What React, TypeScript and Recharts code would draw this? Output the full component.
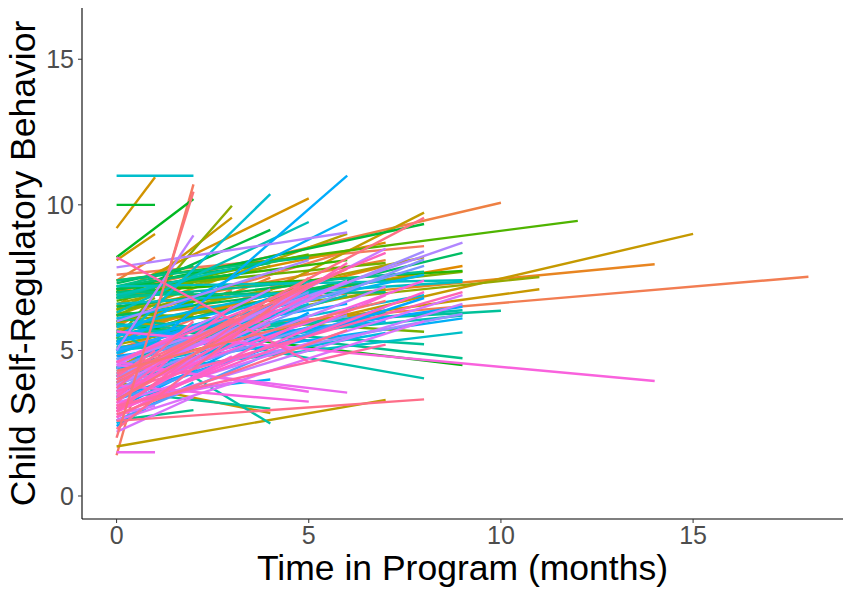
import React from 'react';
import { LineChart, Line, XAxis, YAxis, Label } from 'recharts';

// each row: [participant id, score at month 0, score at last visit]
type Row = [number, number, number];

const followUp1: Row[] = [
  [19, 9.2, 10.95], [52, 10.0, 10.0], [20, 8.1, 9.0], [8, 7.4, 8.2], [128, 1.5, 1.5],
  [70, 6.8, 7.2], [96, 5.2, 5.9], [145, 4.1, 5.0], [60, 7.0, 7.1], [110, 3.6, 4.4],
  [40, 6.2, 6.8], [85, 4.9, 5.3], [135, 2.9, 3.5], [25, 5.6, 6.0], [100, 2.4, 3.2],
  [65, 7.2, 7.5], [150, 3.3, 4.0], [12, 6.0, 6.3], [78, 4.4, 4.9], [120, 2.8, 3.1],
];

const followUp2: Row[] = [
  [81, 11.0, 11.0], [51, 8.2, 10.2], [3, 1.4, 10.7], [155, 2.0, 10.45], [116, 5.0, 8.95],
  [66, 2.6, 2.95], [58, 7.3, 7.9], [140, 3.2, 5.4], [90, 6.1, 6.6], [30, 5.3, 6.2],
  [105, 3.0, 4.6], [132, 4.6, 5.8], [45, 6.7, 7.3], [10, 5.8, 7.4], [88, 2.5, 3.9],
  [148, 3.7, 6.0], [62, 7.0, 7.0], [122, 2.2, 3.4], [35, 6.4, 7.6], [98, 4.3, 5.1],
  [15, 5.9, 7.0],
];

const followUp3: Row[] = [
  [37, 5.4, 9.97], [21, 6.5, 9.56], [142, 3.4, 6.5], [75, 6.9, 7.8], [112, 4.2, 5.6],
  [55, 7.1, 7.6], [130, 2.7, 4.8], [92, 5.5, 6.4], [6, 4.8, 7.1], [80, 3.9, 5.2],
  [47, 6.0, 7.0], [126, 3.1, 3.9], [102, 5.0, 6.1], [134, 4.0, 6.0], [86, 3.5, 5.3],
];

const followUp4: Row[] = [
  [82, 5.2, 10.37], [54, 6.8, 9.14], [72, 5.7, 2.49], [95, 3.4, 4.0], [23, 3.9, 2.85],
  [68, 3.6, 3.0], [146, 2.9, 6.8], [118, 4.5, 7.1], [33, 6.6, 7.9], [86, 5.8, 6.9],
  [138, 3.1, 5.9], [9, 5.3, 7.5], [61, 7.2, 8.0], [104, 2.6, 4.9], [125, 4.0, 6.2],
  [154, 3.3, 6.4], [92, 4.9, 6.8],
];

const followUp5: Row[] = [
  [18, 7.0, 10.22], [76, 6.3, 9.41], [129, 4.6, 3.58], [131, 3.8, 3.24], [149, 2.3, 7.5],
  [99, 3.0, 6.3], [44, 6.9, 8.3], [2, 5.0, 7.7], [84, 4.7, 6.6], [113, 6.0, 8.1],
  [64, 7.4, 8.2], [137, 3.5, 6.9], [27, 5.7, 7.2], [93, 4.1, 5.8], [56, 6.5, 7.3],
  [144, 8.2, 4.6], [139, 2.7, 6.1], [106, 4.4, 7.0], [152, 3.9, 7.3],
];

const followUp6: Row[] = [
  [97, 4.1, 11.0], [94, 5.5, 9.47], [28, 6.2, 9.0], [143, 3.0, 8.0], [115, 7.85, 9.05],
  [127, 4.5, 3.55], [74, 4.6, 6.9], [5, 6.0, 8.4], [108, 3.7, 6.2], [48, 7.1, 8.1],
  [89, 5.0, 7.3], [151, 2.8, 5.7], [124, 3.4, 7.4], [98, 5.3, 6.6], [150, 4.2, 7.8],
];

const followUp7: Row[] = [
  [26, 1.7, 3.3], [16, 6.8, 8.7], [141, 4.6, 8.35], [71, 5.0, 6.28], [83, 4.4, 6.15],
  [42, 7.1, 8.0], [57, 6.2, 7.4], [103, 3.3, 6.5], [136, 2.9, 6.9], [11, 5.6, 7.9],
  [87, 4.0, 5.6], [117, 3.6, 7.2], [63, 6.9, 7.0], [32, 5.2, 7.1], [147, 3.1, 5.2],
  [119, 3.8, 8.5], [156, 4.3, 6.7], [93, 5.1, 6.0], [9, 6.4, 8.1],
];

const followUp8: Row[] = [
  [24, 4.4, 9.73], [153, 4.0, 9.55], [53, 7.1, 9.34], [4, 7.6, 8.58], [109, 3.8, 8.13],
  [152, 2.58, 3.32], [69, 5.9, 5.21], [73, 5.9, 4.04], [41, 6.3, 5.64], [101, 3.4, 6.8],
  [123, 2.6, 6.0], [91, 5.3, 7.6], [29, 6.0, 8.2], [139, 3.0, 7.0], [67, 6.8, 7.7],
  [107, 4.7, 7.9], [133, 3.6, 7.4], [84, 5.0, 6.9], [112, 4.1, 8.4],
];

const followUp9: Row[] = [
  [114, 4.6, 8.7], [59, 5.5, 8.35], [49, 7.0, 7.73], [77, 7.2, 7.41], [79, 6.6, 7.36],
  [99, 4.8, 6.5], [73, 5.4, 6.38], [111, 3.9, 6.25], [80, 4.2, 5.62], [66, 6.1, 4.73],
  [50, 5.9, 4.5], [144, 3.6, 7.0], [39, 6.4, 7.7], [121, 3.2, 6.9], [13, 5.8, 7.9],
  [95, 4.4, 6.1], [118, 3.0, 6.6], [76, 5.0, 6.2],
];

const followUpLong: [number, number, number, number][] = [
  // [id, start, months, end]
  [7, 7.0, 10, 10.07], [69, 5.6, 10, 6.36], [35, 6.0, 11, 7.52], [22, 5.1, 11, 7.1],
  [46, 7.4, 12, 9.45], [10, 6.2, 14, 7.96], [133, 5.65, 14, 3.95], [23, 4.4, 15, 9.0],
  [5, 5.5, 18, 7.53],
];

const xTicks = [0, 5, 10, 15];
const yTicks = [0, 5, 10, 15];
const PALETTE_SIZE = 156;

// ggplot-style hue palette: hcl(h, c = 100, l = 65)
const hcl = (h: number, c = 100, l = 65) => {
  const rad = (h * Math.PI) / 180;
  const u = c * Math.cos(rad);
  const v = c * Math.sin(rad);
  const Xn = 95.047, Yn = 100, Zn = 108.883;
  const den = Xn + 15 * Yn + 3 * Zn;
  const un = (4 * Xn) / den;
  const vn = (9 * Yn) / den;
  const Y = Yn * Math.pow((l + 16) / 116, 3);
  const up = u / (13 * l) + un;
  const vp = v / (13 * l) + vn;
  const X = (Y * 9 * up) / (4 * vp);
  const Z = (Y * (12 - 3 * up - 20 * vp)) / (4 * vp);
  const x = X / 100, y = Y / 100, z = Z / 100;
  const lin = [
    3.2404542 * x - 1.5371385 * y - 0.4985314 * z,
    -0.969266 * x + 1.8760108 * y + 0.041556 * z,
    0.0556434 * x - 0.2040259 * y + 1.0572252 * z,
  ];
  const hex = lin
    .map((ch) => {
      const g = ch <= 0.0031308 ? 12.92 * ch : 1.055 * Math.pow(ch, 1 / 2.4) - 0.055;
      const n = Math.round(Math.min(1, Math.max(0, g)) * 255);
      return n.toString(16).padStart(2, '0');
    })
    .join('');
  return `#${hex}`;
};

const colorFor = (id: number) => hcl(15 + (360 * (id - 1)) / PALETTE_SIZE);

const groups: [number, Row[]][] = [
  [1, followUp1], [2, followUp2], [3, followUp3], [4, followUp4], [5, followUp5],
  [6, followUp6], [7, followUp7], [8, followUp8], [9, followUp9],
];

const segments = [
  ...groups.flatMap(([months, rows]) =>
    rows.map(([id, start, end]) => ({ id, data: [{ t: 0, v: start }, { t: months, v: end }] }))
  ),
  ...followUpLong.map(([id, start, months, end]) => ({
    id,
    data: [{ t: 0, v: start }, { t: months, v: end }],
  })),
].sort((a, b) => a.id - b.id);

const FONT = '"Liberation Sans", Arial, sans-serif';

export default function App() {
  return (
    <div style={{ width: 843, height: 588, background: '#fff' }}>
      <LineChart width={843} height={588} margin={{ top: 0, right: 8, bottom: 0, left: 0 }}>
        <XAxis
          dataKey="t"
          type="number"
          domain={[-0.9, 18.9]}
          ticks={xTicks}
          allowDataOverflow
          height={77}
          tickSize={4}
          tickMargin={3}
          tick={{ fill: '#4D4D4D', fontSize: 25, fontFamily: FONT }}
          tickLine={{ stroke: '#333333' }}
          axisLine={{ stroke: '#000000', strokeWidth: 1.1 }}
        >
          <Label
            value="Time in Program (months)"
            position="insideBottom"
            offset={16}
            style={{ fontSize: 35.5, fontFamily: FONT, fill: '#000000' }}
          />
        </XAxis>
        <YAxis
          type="number"
          domain={[-0.79, 16.76]}
          ticks={yTicks}
          allowDataOverflow
          width={74}
          tickSize={4}
          tickMargin={4}
          tick={{ fill: '#4D4D4D', fontSize: 25, fontFamily: FONT }}
          tickLine={{ stroke: '#333333' }}
          axisLine={{ stroke: '#000000', strokeWidth: 1.1 }}
        >
          <Label
            content={(props: any) => {
              const vb = props.viewBox || { x: 0, y: 0, width: 74, height: 511 };
              const cx = 27;
              const cy = vb.y + vb.height / 2;
              return (
                <text
                  x={cx}
                  y={cy}
                  transform={`rotate(-90, ${cx}, ${cy})`}
                  textAnchor="middle"
                  fontSize={35.5}
                  fontFamily={FONT}
                  fill="#000000"
                >
                  Child Self-Regulatory Behavior
                </text>
              );
            }}
          />
        </YAxis>
        {segments.map((s, i) => (
          <Line
            key={`${s.id}-${i}`}
            data={s.data}
            dataKey="v"
            type="linear"
            stroke={colorFor(s.id)}
            strokeWidth={2.4}
            dot={false}
            activeDot={false}
            isAnimationActive={false}
          />
        ))}
      </LineChart>
    </div>
  );
}
